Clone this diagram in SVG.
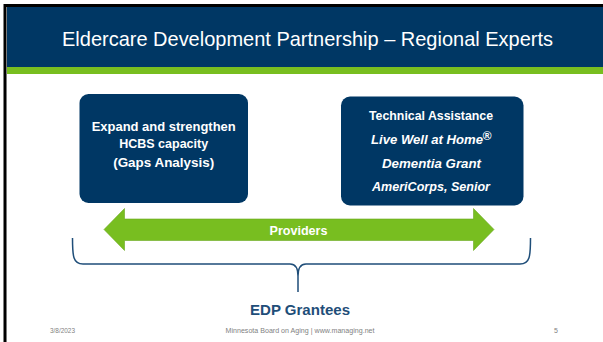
<svg xmlns="http://www.w3.org/2000/svg" width="603" height="342" viewBox="0 0 603 342">
  <style>
    .box { fill: #003764; }
    .boxtxt { font-family: "Liberation Sans", Arial, sans-serif; font-weight: bold; font-size: 12px; fill: #ffffff; text-anchor: middle; }
    .it { font-style: italic; }
    .foot { font-family: "Liberation Sans", Arial, sans-serif; font-size: 7px; fill: #7f7f7f; }
  </style>

  <!-- page frame -->
  <rect x="0" y="0" width="603" height="342" fill="#ffffff"/>
  <rect x="3.5" y="4" width="599.5" height="338" fill="#000000"/>
  <rect x="6" y="7" width="1" height="335" fill="#7a7a7a"/>
  <rect x="7" y="7" width="596" height="335" fill="#ffffff"/>

  <!-- title band -->
  <g id="header">
    <rect x="7" y="7" width="596" height="60" fill="#003764"/>
    <rect x="7" y="67" width="596" height="7" fill="#78be20"/>
    <text x="307.5" y="46" font-family="Liberation Sans, Arial, sans-serif" font-size="21" fill="#ffffff" text-anchor="middle" textLength="491" lengthAdjust="spacingAndGlyphs">Eldercare Development Partnership – Regional Experts</text>
  </g>

  <!-- left node -->
  <g id="hcbs-capacity">
    <rect class="box" x="79.5" y="94" width="168.5" height="109" rx="9"/>
    <text class="boxtxt" x="163.7" y="131" textLength="144" lengthAdjust="spacingAndGlyphs">Expand and strengthen</text>
    <text class="boxtxt" x="163.7" y="147.5" textLength="89" lengthAdjust="spacingAndGlyphs">HCBS capacity</text>
    <text class="boxtxt" x="163.7" y="167" textLength="101" lengthAdjust="spacingAndGlyphs">(Gaps Analysis)</text>
  </g>

  <!-- right node -->
  <g id="technical-assistance">
    <rect class="box" x="341" y="96.5" width="182.5" height="109" rx="9"/>
    <text class="boxtxt" x="431" y="120" textLength="124" lengthAdjust="spacingAndGlyphs">Technical Assistance</text>
    <text class="boxtxt it" x="427" y="144" textLength="112" lengthAdjust="spacingAndGlyphs">Live Well at Home</text>
    <text class="boxtxt it" x="487" y="139.5" font-size="5.5" text-anchor="middle">®</text>
    <text class="boxtxt it" x="431.5" y="167.5" textLength="99" lengthAdjust="spacingAndGlyphs">Dementia Grant</text>
    <text class="boxtxt it" x="431" y="191" textLength="118" lengthAdjust="spacingAndGlyphs">AmeriCorps, Senior</text>
  </g>

  <!-- connectors -->
  <g id="connectors">
    <!-- providers double arrow -->
    <polygon points="104,229.5 124.5,208.5 124.5,219 473.5,219 473.5,208.5 494,229.5 473.5,250.5 473.5,240.5 124.5,240.5 124.5,250.5" fill="#78be20" stroke="#6aa81c" stroke-width="0.6"/>
    <text x="298.5" y="234.5" font-family="Liberation Sans, Arial, sans-serif" font-weight="bold" font-size="12" fill="#ffffff" text-anchor="middle" textLength="58" lengthAdjust="spacingAndGlyphs">Providers</text>
    <!-- grouping brace -->
    <path d="M72.5,238 C72.5,256 73,264 83,264 L290,264 C296,264 298,268 298,276 L298,292 M298,276 C298,268 300,264 306,264 L520,264 C530,264 530.5,256 530.5,238" fill="none" stroke="#1f4e79" stroke-width="1.5"/>
  </g>

  <!-- group label -->
  <g id="edp-grantees">
    <text x="300" y="314.5" font-family="Liberation Sans, Arial, sans-serif" font-weight="bold" font-size="15" fill="#1f4e79" text-anchor="middle" textLength="100" lengthAdjust="spacingAndGlyphs">EDP Grantees</text>
  </g>

  <!-- footer -->
  <g id="footer">
    <text class="foot" x="50" y="333" textLength="25" lengthAdjust="spacingAndGlyphs">3/8/2023</text>
    <text class="foot" x="300" y="333" text-anchor="middle" textLength="149" lengthAdjust="spacingAndGlyphs">Minnesota Board on Aging  |  www.managing.net</text>
    <text class="foot" x="554" y="333">5</text>
  </g>
</svg>
